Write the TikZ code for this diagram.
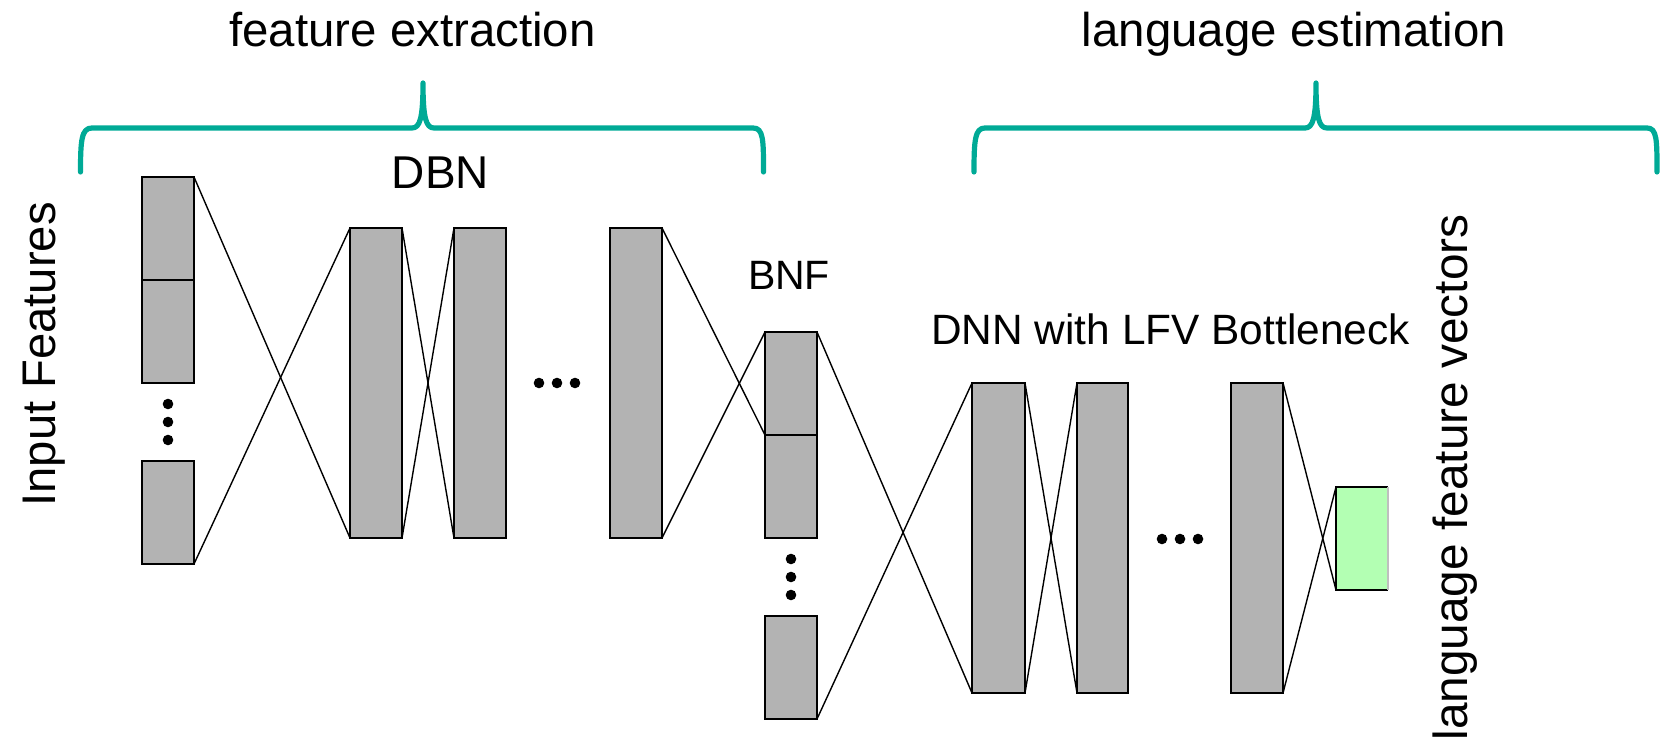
\documentclass[tikz,border=0pt]{standalone}
\usepackage{fontspec}
\setmainfont{Liberation Sans}
\usetikzlibrary{fit}
\definecolor{braceteal}{RGB}{0,170,150}
\definecolor{layergray}{RGB}{179,179,179}
\definecolor{lfvgreen}{RGB}{179,255,179}
\tikzset{
  layer/.style={draw=black, fill=layergray, line width=0.7pt, inner sep=0pt, outer sep=0pt},
  conn/.style={draw=black, line width=0.7pt},
  brace/.style={draw=braceteal, line width=2.6pt, line cap=round, line join=round},
  dotmark/.style={fill=black},
  lbl/.style={inner sep=0pt, anchor=base}
}
\begin{document}
\begin{tikzpicture}[x=0.5pt,y=-0.5pt]
\useasboundingbox (0,0) rectangle (1660,747);

% braces
\draw[brace] (80.5,172) .. controls (80.5,140) and (81.5,128) .. (92,128) -- (412,128)
  .. controls (420,128) and (423,118) .. (423,83)
  .. controls (423,118) and (426,128) .. (434,128) -- (753,128)
  .. controls (763.5,128) and (763.5,140) .. (763.5,172);
\draw[brace] (974,172) .. controls (974,140) and (975,128) .. (985,128) -- (1305,128)
  .. controls (1313,128) and (1316,118) .. (1316,83)
  .. controls (1316,118) and (1319,128) .. (1327,128) -- (1647,128)
  .. controls (1657,128) and (1657,140) .. (1657,172);

% labels
\node[lbl, font=\fontsize{23.7}{28}\selectfont] (fe) at (412.5,46.5) {feature extraction};
\node[lbl, font=\fontsize{23.7}{28}\selectfont] (le) at (1294,46.5) {language estimation};
\node[lbl, font=\fontsize{23}{28}\selectfont] (dbn) at (440.5,188.5) {DBN};
\node[lbl, font=\fontsize{20.5}{24}\selectfont] (bnf) at (789,290) {BNF};
\node[lbl, font=\fontsize{21.2}{26}\selectfont] (dnn) at (1170.5,345) {DNN with LFV Bottleneck};
\node[inner sep=0pt, anchor=base west, rotate=90, font=\fontsize{23.6}{28}\selectfont] (inf) at (55,507) {Input Features};
\node[inner sep=0pt, anchor=base east, rotate=90, font=\fontsize{23.9}{28}\selectfont] (lfv) at (1467,214) {language feature vectors};

% input features
\node[layer, fit={(142,177) (194,280)}] (in1a) {};
\node[layer, fit={(142,280) (194,383)}] (in1b) {};
\node[layer, fit={(142,461) (194,564)}] (in2) {};
\foreach \y in {404,422,440} \fill[dotmark] (168,\y) circle (5.3);

% DBN
\node[layer, fit={(350,228) (402,538)}] (d1) {};
\node[layer, fit={(454,228) (506,538)}] (d2) {};
\node[layer, fit={(610,228) (662,538)}] (d3) {};
\foreach \x in {539,557,575} \fill[dotmark] (\x,383) circle (5.3);

% BNF
\node[layer, fit={(765,332) (817,435)}] (b1a) {};
\node[layer, fit={(765,435) (817,538)}] (b1b) {};
\node[layer, fit={(765,616) (817,719)}] (b2) {};
\foreach \y in {559,577,595} \fill[dotmark] (791,\y) circle (5.3);

% DNN
\node[layer, fit={(972,383) (1025,693)}] (n1) {};
\node[layer, fit={(1077,383) (1128,693)}] (n2) {};
\node[layer, fit={(1231,383) (1283,693)}] (n3) {};
\foreach \x in {1162,1180,1198} \fill[dotmark] (\x,539) circle (5.3);

% LFV output
\node[fill=lfvgreen, inner sep=0pt, outer sep=0pt, fit={(1336,487) (1388,590)}] (g) {};
\draw[line width=0.7pt] (g.north east) -- (g.north west) -- (g.south west) -- (g.south east);
\draw[line width=0.7pt, gray!50] (g.north east) -- (g.south east);

% connectors
\draw[conn] (in1a.north east) -- (d1.south west);
\draw[conn] (in2.south east) -- (d1.north west);
\draw[conn] (d1.north east) -- (d2.south west);
\draw[conn] (d1.south east) -- (d2.north west);
\draw[conn] (d3.north east) -- (b1a.south west);
\draw[conn] (d3.south east) -- (b1a.north west);
\draw[conn] (b1a.north east) -- (n1.south west);
\draw[conn] (b2.south east) -- (n1.north west);
\draw[conn] (n1.north east) -- (n2.south west);
\draw[conn] (n1.south east) -- (n2.north west);
\draw[conn] (n3.north east) -- (g.south west);
\draw[conn] (n3.south east) -- (g.north west);
\end{tikzpicture}
\end{document}
